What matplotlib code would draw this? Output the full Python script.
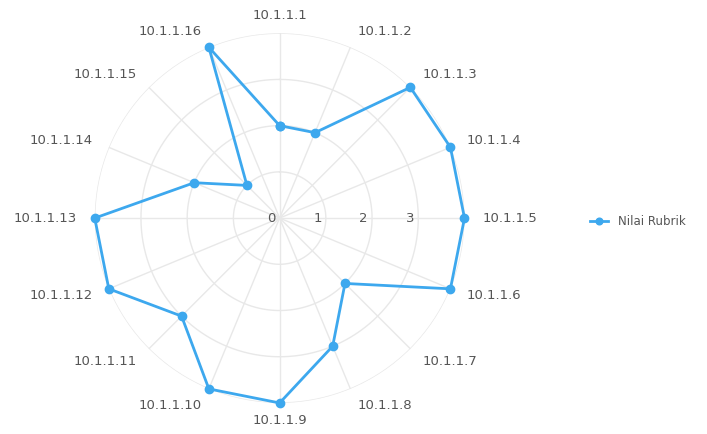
import matplotlib.pyplot as plt
import numpy as np

# data
categories = ['10.1.1.%d' % i for i in range(1, 17)]
values = [2, 2, 4, 4, 4, 4, 2, 3, 4, 4, 3, 4, 4, 2, 1, 4]
radial_ticks = [0, 1, 2, 3]
series_name = 'Nilai Rubrik'

line_color = '#3DA8EE'
grid_color = '#e8e8e8'
text_color = '#555555'

fig = plt.figure(figsize=(7.07, 4.34), dpi=100)
ax = fig.add_axes([0.134, 0.071, 0.523, 0.853], projection='polar')
ax.set_theta_zero_location('N')
ax.set_theta_direction(-1)

n = len(categories)
theta = np.arange(n) * 2 * np.pi / n
rmax = 4

# grid: circles + spokes
tt = np.linspace(0, 2 * np.pi, 300)
for r in [1, 2, 3, 4]:
    ax.plot(tt, np.full_like(tt, r), color=grid_color, lw=1, zorder=1)
for t in theta:
    ax.plot([t, t], [0, rmax], color=grid_color, lw=1, zorder=1)

ax.grid(False)
ax.spines['polar'].set_visible(False)
ax.set_xticks([])
ax.set_yticks([])
ax.set_ylim(0, rmax)

# radial tick labels along east direction (0 sits just left of centre)
for v in radial_ticks:
    if v == 0:
        ax.text(3 * np.pi / 2, 0.18, '0', ha='center', va='center',
                fontsize=9.5, color=text_color)
    else:
        ax.text(np.pi / 2, v - 0.18, str(v), ha='center', va='center',
                fontsize=9.5, color=text_color)

# category labels
for t, lab in zip(theta, categories):
    s = np.sin(t)
    if abs(s) < 0.1:
        ha = 'center'
    elif s > 0:
        ha = 'left'
    else:
        ha = 'right'
    ax.text(t, rmax + 0.38, lab, ha=ha, va='center', fontsize=9.5, color=text_color)

# series
th_closed = np.append(theta, theta[0])
v_closed = np.append(values, values[0])
line, = ax.plot(th_closed, v_closed, color=line_color, lw=2, marker='o', ms=6,
                zorder=3, label=series_name, clip_on=False)

leg = fig.legend(handles=[line], labels=[series_name], loc='center left',
                 bbox_to_anchor=(0.82, 0.49), frameon=False, fontsize=8.5,
                 handlelength=1.5, labelcolor=text_color, markerscale=0.8)

fig.savefig('out.png', dpi=100)
